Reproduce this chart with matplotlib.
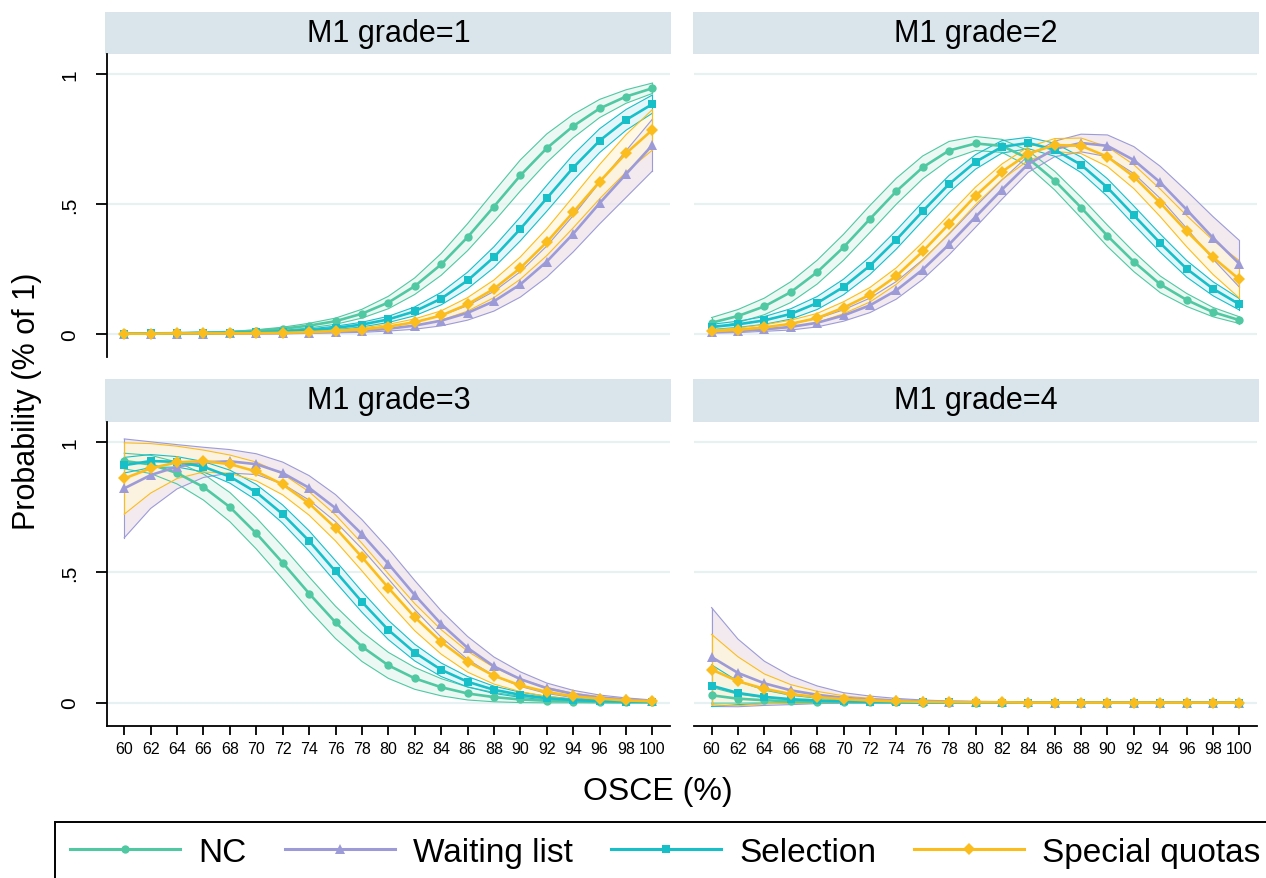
#!/usr/bin/env python3
"""Predicted probability of each M1 grade by OSCE score, per admission route."""

import matplotlib

matplotlib.use("Agg")
import matplotlib.pyplot as plt
import numpy as np
from matplotlib.lines import Line2D

plt.rcParams["font.family"] = ["Liberation Sans", "DejaVu Sans"]

# OSCE score (%) on the x axis
osce = [60, 62, 64, 66, 68, 70, 72, 74, 76, 78, 80, 82, 84, 86, 88, 90, 92, 94, 96, 98, 100]

grade_titles = ["M1 grade=1", "M1 grade=2", "M1 grade=3", "M1 grade=4"]
group_names = ["NC", "Waiting list", "Selection", "Special quotas"]

# predicted probabilities (margins) and CI half-widths
nc_g1 = [0.001, 0.001, 0.002, 0.004, 0.006, 0.011, 0.019, 0.031, 0.048, 0.077, 0.12,
         0.183, 0.267, 0.372, 0.49, 0.61, 0.715, 0.80, 0.868, 0.914, 0.946]
nc_g1_ci = [0.001, 0.001, 0.001, 0.002, 0.003, 0.004, 0.006, 0.009, 0.012, 0.017, 0.024,
            0.032, 0.042, 0.052, 0.058, 0.06, 0.055, 0.045, 0.035, 0.026, 0.02]
wl_g1 = [0.0, 0.0, 0.0, 0.0, 0.001, 0.001, 0.002, 0.004, 0.007, 0.011, 0.019,
         0.031, 0.05, 0.08, 0.125, 0.19, 0.278, 0.385, 0.503, 0.615, 0.727]
wl_g1_ci = [0.0, 0.0, 0.0, 0.0, 0.001, 0.001, 0.002, 0.002, 0.004, 0.006, 0.009,
            0.014, 0.02, 0.028, 0.038, 0.049, 0.06, 0.07, 0.08, 0.09, 0.1]
sel_g1 = [0.0, 0.001, 0.001, 0.002, 0.003, 0.005, 0.008, 0.013, 0.022, 0.035, 0.055,
          0.086, 0.135, 0.205, 0.295, 0.404, 0.522, 0.64, 0.744, 0.824, 0.885]
sel_g1_ci = [0.0, 0.0, 0.001, 0.001, 0.002, 0.002, 0.003, 0.005, 0.007, 0.009, 0.012,
             0.017, 0.024, 0.032, 0.04, 0.046, 0.05, 0.05, 0.046, 0.04, 0.035]
sq_g1 = [0.0, 0.0, 0.001, 0.001, 0.001, 0.002, 0.003, 0.006, 0.01, 0.016, 0.027,
         0.044, 0.07, 0.113, 0.173, 0.253, 0.353, 0.468, 0.586, 0.695, 0.786]
sq_g1_ci = [0.0, 0.0, 0.0, 0.001, 0.001, 0.001, 0.002, 0.003, 0.004, 0.006, 0.009,
            0.013, 0.018, 0.026, 0.034, 0.043, 0.052, 0.06, 0.066, 0.072, 0.078]

nc_g2 = [0.042, 0.068, 0.105, 0.16, 0.237, 0.333, 0.442, 0.549, 0.641, 0.706, 0.733,
         0.724, 0.675, 0.59, 0.486, 0.377, 0.277, 0.19, 0.13, 0.083, 0.052]
nc_g2_ci = [0.02, 0.025, 0.032, 0.04, 0.046, 0.05, 0.052, 0.05, 0.044, 0.035, 0.027,
            0.025, 0.03, 0.036, 0.04, 0.041, 0.038, 0.032, 0.025, 0.018, 0.013]
wl_g2 = [0.006, 0.01, 0.017, 0.026, 0.042, 0.07, 0.109, 0.167, 0.247, 0.344, 0.45,
         0.555, 0.654, 0.712, 0.735, 0.724, 0.669, 0.583, 0.478, 0.369, 0.269]
wl_g2_ci = [0.004, 0.006, 0.008, 0.012, 0.016, 0.022, 0.028, 0.034, 0.038, 0.04, 0.04,
            0.037, 0.032, 0.03, 0.034, 0.042, 0.052, 0.062, 0.072, 0.082, 0.09]
sel_g2 = [0.026, 0.036, 0.051, 0.076, 0.118, 0.18, 0.262, 0.362, 0.472, 0.577, 0.662,
          0.72, 0.735, 0.709, 0.651, 0.563, 0.456, 0.349, 0.25, 0.173, 0.113]
sel_g2_ci = [0.01, 0.012, 0.015, 0.02, 0.025, 0.03, 0.034, 0.036, 0.036, 0.033, 0.028,
             0.024, 0.022, 0.025, 0.03, 0.034, 0.036, 0.035, 0.032, 0.027, 0.022]
sq_g2 = [0.009, 0.015, 0.024, 0.038, 0.06, 0.1, 0.15, 0.222, 0.317, 0.423, 0.531,
         0.624, 0.694, 0.727, 0.724, 0.682, 0.605, 0.504, 0.395, 0.294, 0.209]
sq_g2_ci = [0.005, 0.007, 0.01, 0.014, 0.018, 0.023, 0.028, 0.032, 0.035, 0.036, 0.034,
            0.03, 0.026, 0.025, 0.03, 0.038, 0.046, 0.053, 0.06, 0.066, 0.072]

nc_g3 = [0.928, 0.915, 0.882, 0.828, 0.751, 0.65, 0.537, 0.419, 0.308, 0.215, 0.143,
         0.093, 0.059, 0.035, 0.021, 0.012, 0.007, 0.004, 0.002, 0.001, 0.001]
nc_g3_ci = [0.03, 0.035, 0.042, 0.05, 0.056, 0.06, 0.063, 0.064, 0.062, 0.057, 0.05,
            0.042, 0.033, 0.025, 0.018, 0.012, 0.008, 0.005, 0.003, 0.002, 0.001]
wl_g3 = [0.823, 0.874, 0.906, 0.923, 0.927, 0.916, 0.882, 0.825, 0.747, 0.647, 0.533,
         0.413, 0.302, 0.21, 0.139, 0.09, 0.055, 0.033, 0.019, 0.012, 0.006]
wl_g3_ci = [0.19, 0.128, 0.085, 0.058, 0.045, 0.04, 0.042, 0.047, 0.052, 0.056, 0.058,
            0.056, 0.051, 0.044, 0.036, 0.028, 0.02, 0.014, 0.01, 0.006, 0.004]
sel_g3 = [0.912, 0.928, 0.925, 0.906, 0.868, 0.808, 0.724, 0.621, 0.504, 0.387, 0.279,
          0.192, 0.126, 0.08, 0.049, 0.03, 0.017, 0.01, 0.006, 0.004, 0.002]
sel_g3_ci = [0.03, 0.025, 0.02, 0.02, 0.025, 0.03, 0.035, 0.039, 0.041, 0.04, 0.037,
             0.032, 0.026, 0.02, 0.014, 0.01, 0.007, 0.004, 0.003, 0.002, 0.001]
sq_g3 = [0.861, 0.9, 0.923, 0.928, 0.916, 0.888, 0.838, 0.765, 0.671, 0.559, 0.441,
         0.328, 0.233, 0.157, 0.103, 0.066, 0.041, 0.024, 0.015, 0.008, 0.005]
sq_g3_ci = [0.137, 0.095, 0.062, 0.042, 0.035, 0.036, 0.04, 0.045, 0.05, 0.053, 0.054,
            0.052, 0.047, 0.04, 0.032, 0.024, 0.017, 0.012, 0.008, 0.005, 0.003]

nc_g4 = [0.028, 0.015, 0.009, 0.005, 0.003, 0.002, 0.001, 0.001, 0.0, 0.0, 0.0,
         0.0, 0.0, 0.0, 0.0, 0.0, 0.0, 0.0, 0.0, 0.0, 0.0]
nc_g4_ci = [0.03, 0.017, 0.01, 0.006, 0.004, 0.002, 0.001, 0.001, 0.0, 0.0, 0.0,
            0.0, 0.0, 0.0, 0.0, 0.0, 0.0, 0.0, 0.0, 0.0, 0.0]
wl_g4 = [0.175, 0.114, 0.074, 0.047, 0.03, 0.018, 0.012, 0.008, 0.005, 0.003, 0.002,
         0.001, 0.001, 0.0, 0.0, 0.0, 0.0, 0.0, 0.0, 0.0, 0.0]
wl_g4_ci = [0.19, 0.13, 0.085, 0.055, 0.034, 0.02, 0.013, 0.008, 0.005, 0.003, 0.002,
            0.001, 0.001, 0.0, 0.0, 0.0, 0.0, 0.0, 0.0, 0.0, 0.0]
sel_g4 = [0.065, 0.037, 0.022, 0.013, 0.008, 0.005, 0.003, 0.002, 0.001, 0.001, 0.0,
          0.0, 0.0, 0.0, 0.0, 0.0, 0.0, 0.0, 0.0, 0.0, 0.0]
sel_g4_ci = [0.08, 0.045, 0.026, 0.015, 0.009, 0.005, 0.003, 0.002, 0.001, 0.001, 0.0,
             0.0, 0.0, 0.0, 0.0, 0.0, 0.0, 0.0, 0.0, 0.0, 0.0]
sq_g4 = [0.127, 0.082, 0.053, 0.033, 0.021, 0.013, 0.008, 0.005, 0.003, 0.002, 0.001,
         0.001, 0.0, 0.0, 0.0, 0.0, 0.0, 0.0, 0.0, 0.0, 0.0]
sq_g4_ci = [0.135, 0.094, 0.057, 0.036, 0.022, 0.013, 0.008, 0.005, 0.003, 0.002, 0.001,
            0.001, 0.0, 0.0, 0.0, 0.0, 0.0, 0.0, 0.0, 0.0, 0.0]

panels = [
    [(nc_g1, nc_g1_ci), (wl_g1, wl_g1_ci), (sel_g1, sel_g1_ci), (sq_g1, sq_g1_ci)],
    [(nc_g2, nc_g2_ci), (wl_g2, wl_g2_ci), (sel_g2, sel_g2_ci), (sq_g2, sq_g2_ci)],
    [(nc_g3, nc_g3_ci), (wl_g3, wl_g3_ci), (sel_g3, sel_g3_ci), (sq_g3, sq_g3_ci)],
    [(nc_g4, nc_g4_ci), (wl_g4, wl_g4_ci), (sel_g4, sel_g4_ci), (sq_g4, sq_g4_ci)],
]

line_colors = ["#50c8a2", "#9c9bd8", "#17bfc9", "#fbbd1e"]
fill_colors = ["#e6f6f0", "#eee4ea", "#dcf4f7", "#fff6dc"]
markers = ["o", "^", "s", "D"]
marker_sizes = [6.0, 7.5, 6.0, 6.0]

W, H = 1266, 879
col_x = [(106.7, 670.0), (694.0, 1257.0)]
row_plot = [(55.0, 358.0), (423.0, 727.0)]
row_strip = [(13.0, 55.0), (380.0, 423.0)]


def px_rect(x0, x1, y0, y1):
    return [x0 / W, 1 - y1 / H, (x1 - x0) / W, (y1 - y0) / H]


fig = plt.figure(figsize=(W / 100, H / 100), dpi=100)
x = np.asarray(osce, dtype=float)

for idx, series in enumerate(panels):
    row, col = divmod(idx, 2)
    x0, x1 = col_x[col]

    strip = fig.add_axes(px_rect(x0 - 1.5, x1 + 1.5, *row_strip[row]))
    strip.set_facecolor("#d9e5eb")
    strip.set_xticks([])
    strip.set_yticks([])
    for sp in strip.spines.values():
        sp.set_visible(False)
    strip.text(0.5, 0.5, grade_titles[idx], ha="center", va="center",
               fontsize=22, transform=strip.transAxes)

    ax = fig.add_axes(px_rect(x0, x1, *row_plot[row]))
    ax.set_xlim(58.67, 101.33)
    ax.set_ylim(-0.09, 1.078)
    ax.set_yticks([0, 0.5, 1])
    ax.set_yticklabels(["0", ".5", "1"])
    ax.set_xticks(osce)
    ax.set_xticklabels([str(v) for v in osce])
    ax.yaxis.grid(True, color="#e8f1f2", linewidth=1.6, zorder=0)
    ax.set_axisbelow(True)
    for sp in ["top", "right"]:
        ax.spines[sp].set_visible(False)
    ax.spines["left"].set_visible(col == 0)
    ax.spines["bottom"].set_visible(row == 1)
    ax.spines["left"].set_linewidth(1.3)
    ax.spines["bottom"].set_linewidth(1.3)
    ax.tick_params(axis="y", left=(col == 0), labelleft=(col == 0), length=8,
                   width=1.3, labelsize=15, pad=12, labelrotation=90)
    for lbl in ax.get_yticklabels():
        lbl.set_va("center")
    ax.tick_params(axis="x", bottom=(row == 1), labelbottom=(row == 1), length=6.5,
                   width=1.3, labelsize=11.5, pad=4)

    for k, (mean, half) in enumerate(series):
        m = np.asarray(mean)
        h = np.asarray(half)
        lo, hi = m - h, m + h
        ax.fill_between(x, lo, hi, facecolor=fill_colors[k], alpha=0.75,
                        edgecolor="none", zorder=1)
        ax.plot(x, lo, color=line_colors[k], lw=0.8, zorder=2)
        ax.plot(x, hi, color=line_colors[k], lw=0.8, zorder=2)
        ax.plot([x[0], x[0]], [lo[0], hi[0]], color=line_colors[k], lw=0.8, zorder=2)
        ax.plot([x[-1], x[-1]], [lo[-1], hi[-1]], color=line_colors[k], lw=0.8, zorder=2)
    for k, (mean, half) in enumerate(series):
        ax.plot(x, mean, color=line_colors[k], lw=1.9, marker=markers[k],
                markersize=marker_sizes[k], markeredgewidth=0, zorder=3 + k)

fig.text(27 / W, 1 - 401 / H, "Probability (% of 1)", rotation=90,
         ha="center", va="center", fontsize=22)
fig.text(658 / W, 1 - 792 / H, "OSCE (%)", ha="center", va="center", fontsize=23)

handles = [
    Line2D([], [], color=line_colors[k], lw=2.2, marker=markers[k],
           markersize=marker_sizes[k], markeredgewidth=0)
    for k in range(4)
]
leg = fig.legend(handles, group_names, loc="upper left",
                 bbox_to_anchor=(55 / W, 1 - 823 / H), ncol=4, fontsize=24,
                 frameon=True, fancybox=False, edgecolor="black", framealpha=1,
                 handlelength=3.3, handletextpad=0.55, columnspacing=1.14,
                 borderpad=0.45, borderaxespad=0)
leg.get_frame().set_linewidth(1.4)

fig.savefig("out.png", dpi=100)
plt.close(fig)
